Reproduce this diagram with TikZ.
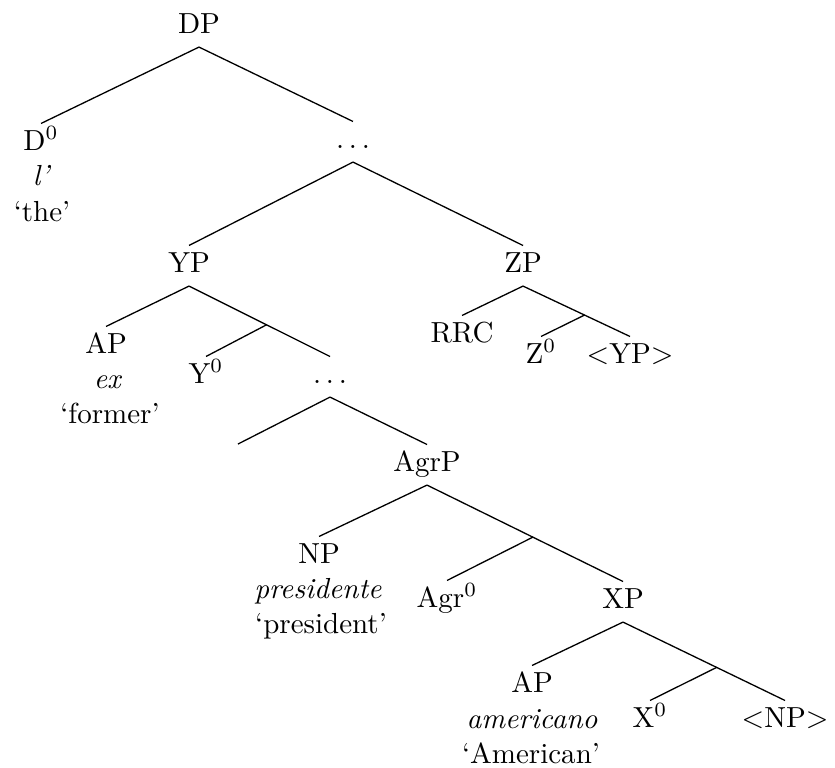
\documentclass[tikz,border=0pt]{standalone}
\usetikzlibrary{calc}
\begin{document}
\begin{tikzpicture}[x=0.3448pt,y=-0.3448pt,
  tn/.style={anchor=base, text height=8pt, text depth=3.7pt, inner ysep=0.95pt, inner xsep=0pt},
  gl/.style={anchor=base, inner sep=0pt},
  br/.style={line width=0.45pt, black}]
\useasboundingbox (0,0) rectangle (835,767);
% labels
\node[tn] (DP) at (199,33) {DP};
\node[tn] (D0) at (41,150) {D$^0$};
\node[gl] (D0w) at (42,185) {\textit{l’}};
\node[gl] (D0g) at (42,221) {‘the’};
\node[tn] (dots1) at (353,148) {$\ldots$};
\node[tn] (YP) at (189,272) {YP};
\node[tn] (ZP) at (523,272) {ZP};
\node[tn] (AP1) at (106,353) {AP};
\node[gl] (AP1w) at (108,388) {\textit{ex}};
\node[gl] (AP1g) at (110,423) {‘former’};
\node[tn] (Y0) at (206,383) {Y$^0$};
\node[tn] (dots2) at (330,383) {$\ldots$};
\coordinate (empty) at (238,444);
\node[tn] (AgrP) at (427,471) {AgrP};
\node[tn] (RRC) at (462,342) {RRC};
\node[tn] (Z0) at (541,363) {Z$^0$};
\node[tn] (tYP) at (630,363) {$<$YP$>$};
\node[tn] (NP) at (319,563) {NP};
\node[gl] (NPw) at (318,598) {\textit{presidente}};
\node[gl] (NPg) at (321,633) {‘president’};
\node[tn] (Agr0) at (447,607) {Agr$^0$};
\node[tn] (XP) at (623,608) {XP};
\node[tn] (AP2) at (532,692) {AP};
\node[gl] (AP2w) at (532,728) {\textit{americano}};
\node[gl] (AP2g) at (531,763) {‘American’};
\node[tn] (X0) at (650,727) {X$^0$};
\node[tn] (tNP) at (785,727) {$<$NP$>$};
% branch points
\coordinate (YPbar) at ($(YP.south)!0.55!(dots2.north)$);
\coordinate (ZPbar) at ($(ZP.south)!0.575!(tYP.north)$);
\coordinate (AgrPbar) at ($(AgrP.south)!0.54!(XP.north)$);
\coordinate (XPbar) at ($(XP.south)!0.578!(tNP.north)$);
% branches
\draw[br] (DP.south) -- (D0.north);
\draw[br] (DP.south) -- (dots1.north);
\draw[br] (dots1.south) -- (YP.north);
\draw[br] (dots1.south) -- (ZP.north);
\draw[br] (YP.south) -- (AP1.north);
\draw[br] (YP.south) -- (dots2.north);
\draw[br] (YPbar) -- (Y0.north);
\draw[br] (dots2.south) -- (empty);
\draw[br] (dots2.south) -- (AgrP.north);
\draw[br] (ZP.south) -- (RRC.north);
\draw[br] (ZP.south) -- (tYP.north);
\draw[br] (ZPbar) -- (Z0.north);
\draw[br] (AgrP.south) -- (NP.north);
\draw[br] (AgrP.south) -- (XP.north);
\draw[br] (AgrPbar) -- (Agr0.north);
\draw[br] (XP.south) -- (AP2.north);
\draw[br] (XP.south) -- (tNP.north);
\draw[br] (XPbar) -- (X0.north);
\end{tikzpicture}
\end{document}
